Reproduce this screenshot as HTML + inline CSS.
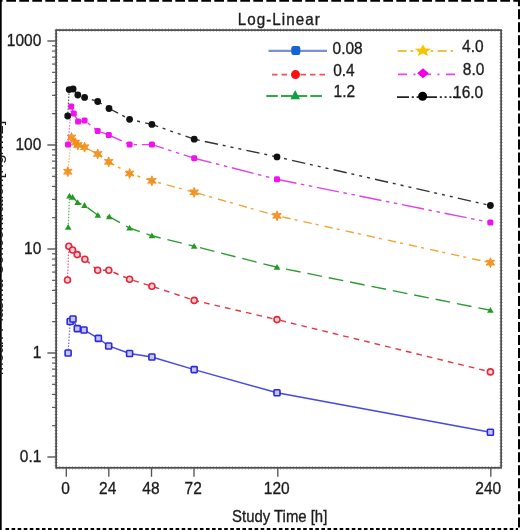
<!DOCTYPE html><html><head><meta charset="utf-8"><style>*{margin:0;padding:0}
html,body{width:520px;height:530px;overflow:hidden;background:#fff}
body{position:relative}
svg{filter:blur(0.55px)}</style></head><body>
<svg width="520" height="530" viewBox="0 0 520 530" style="position:absolute;left:0;top:0;font-family:'Liberation Sans',sans-serif">
<rect x="0" y="0" width="1.7" height="530" fill="#000"/>
<line x1="6.3" y1="0.9" x2="520" y2="0.9" stroke="#000" stroke-width="1.8" stroke-dasharray="9.7 3.3"/>
<rect x="0" y="0" width="2.5" height="1.8" fill="#000"/>
<line x1="519" y1="-3.8" x2="519" y2="530" stroke="#000" stroke-width="2" stroke-dasharray="10 3.03"/>
<line x1="5.5" y1="529" x2="518" y2="529" stroke="#000" stroke-width="2" stroke-dasharray="3.6 2.475"/>
<rect x="56.1" y="30.1" width="445.0" height="437.7" fill="none" stroke="#4a4a4a" stroke-width="1.7"/>
<line x1="56.1" y1="30.1" x2="501.1" y2="30.1" stroke="#555" stroke-width="3.2" stroke-dasharray="0.9 2.3" opacity="0.55"/>
<line x1="56.1" y1="467.8" x2="501.1" y2="467.8" stroke="#555" stroke-width="3.2" stroke-dasharray="0.9 2.3" opacity="0.55"/>
<line x1="56.1" y1="30.1" x2="56.1" y2="467.8" stroke="#555" stroke-width="3.2" stroke-dasharray="0.9 2.3" opacity="0.55"/>
<line x1="501.1" y1="30.1" x2="501.1" y2="467.8" stroke="#555" stroke-width="3.2" stroke-dasharray="0.9 2.3" opacity="0.55"/>
<line x1="47.4" y1="457.00" x2="56" y2="457.00" stroke="#555" stroke-width="1.4"/>
<line x1="52" y1="425.69" x2="56" y2="425.69" stroke="#555" stroke-width="1.15"/>
<line x1="52" y1="407.38" x2="56" y2="407.38" stroke="#555" stroke-width="1.15"/>
<line x1="52" y1="394.39" x2="56" y2="394.39" stroke="#555" stroke-width="1.15"/>
<line x1="52" y1="384.31" x2="56" y2="384.31" stroke="#555" stroke-width="1.15"/>
<line x1="52" y1="376.07" x2="56" y2="376.07" stroke="#555" stroke-width="1.15"/>
<line x1="52" y1="369.11" x2="56" y2="369.11" stroke="#555" stroke-width="1.15"/>
<line x1="52" y1="363.08" x2="56" y2="363.08" stroke="#555" stroke-width="1.15"/>
<line x1="52" y1="357.76" x2="56" y2="357.76" stroke="#555" stroke-width="1.15"/>
<line x1="47.4" y1="353.00" x2="56" y2="353.00" stroke="#555" stroke-width="1.4"/>
<line x1="52" y1="321.69" x2="56" y2="321.69" stroke="#555" stroke-width="1.15"/>
<line x1="52" y1="303.38" x2="56" y2="303.38" stroke="#555" stroke-width="1.15"/>
<line x1="52" y1="290.39" x2="56" y2="290.39" stroke="#555" stroke-width="1.15"/>
<line x1="52" y1="280.31" x2="56" y2="280.31" stroke="#555" stroke-width="1.15"/>
<line x1="52" y1="272.07" x2="56" y2="272.07" stroke="#555" stroke-width="1.15"/>
<line x1="52" y1="265.11" x2="56" y2="265.11" stroke="#555" stroke-width="1.15"/>
<line x1="52" y1="259.08" x2="56" y2="259.08" stroke="#555" stroke-width="1.15"/>
<line x1="52" y1="253.76" x2="56" y2="253.76" stroke="#555" stroke-width="1.15"/>
<line x1="47.4" y1="249.00" x2="56" y2="249.00" stroke="#555" stroke-width="1.4"/>
<line x1="52" y1="217.69" x2="56" y2="217.69" stroke="#555" stroke-width="1.15"/>
<line x1="52" y1="199.38" x2="56" y2="199.38" stroke="#555" stroke-width="1.15"/>
<line x1="52" y1="186.39" x2="56" y2="186.39" stroke="#555" stroke-width="1.15"/>
<line x1="52" y1="176.31" x2="56" y2="176.31" stroke="#555" stroke-width="1.15"/>
<line x1="52" y1="168.07" x2="56" y2="168.07" stroke="#555" stroke-width="1.15"/>
<line x1="52" y1="161.11" x2="56" y2="161.11" stroke="#555" stroke-width="1.15"/>
<line x1="52" y1="155.08" x2="56" y2="155.08" stroke="#555" stroke-width="1.15"/>
<line x1="52" y1="149.76" x2="56" y2="149.76" stroke="#555" stroke-width="1.15"/>
<line x1="47.4" y1="145.00" x2="56" y2="145.00" stroke="#555" stroke-width="1.4"/>
<line x1="52" y1="113.69" x2="56" y2="113.69" stroke="#555" stroke-width="1.15"/>
<line x1="52" y1="95.38" x2="56" y2="95.38" stroke="#555" stroke-width="1.15"/>
<line x1="52" y1="82.39" x2="56" y2="82.39" stroke="#555" stroke-width="1.15"/>
<line x1="52" y1="72.31" x2="56" y2="72.31" stroke="#555" stroke-width="1.15"/>
<line x1="52" y1="64.07" x2="56" y2="64.07" stroke="#555" stroke-width="1.15"/>
<line x1="52" y1="57.11" x2="56" y2="57.11" stroke="#555" stroke-width="1.15"/>
<line x1="52" y1="51.08" x2="56" y2="51.08" stroke="#555" stroke-width="1.15"/>
<line x1="52" y1="45.76" x2="56" y2="45.76" stroke="#555" stroke-width="1.15"/>
<line x1="47.4" y1="41.00" x2="56" y2="41.00" stroke="#555" stroke-width="1.4"/>
<line x1="66.30" y1="467" x2="66.30" y2="476.8" stroke="#555" stroke-width="1.35"/>
<line x1="108.80" y1="467" x2="108.80" y2="476.8" stroke="#555" stroke-width="1.35"/>
<line x1="151.50" y1="467" x2="151.50" y2="476.8" stroke="#555" stroke-width="1.35"/>
<line x1="194.00" y1="467" x2="194.00" y2="476.8" stroke="#555" stroke-width="1.35"/>
<line x1="277.80" y1="467" x2="277.80" y2="476.8" stroke="#555" stroke-width="1.35"/>
<line x1="490.80" y1="467" x2="490.80" y2="476.8" stroke="#555" stroke-width="1.35"/>
<line x1="68.1" y1="353" x2="70.2" y2="321.5" stroke="#4646e6" stroke-width="1.2" stroke-dasharray="1.5 1.5" opacity="0.8"/>
<polyline points="70.2,321.5 73.0,319.0 77.3,328.6 84.0,330.0 98.4,338.4 108.7,346.0 129.6,353.5 151.9,357.0 194.2,369.6 277.0,392.7 490.4,432.3" fill="none" stroke="#4646e6" stroke-width="1.4"/>
<line x1="67.5" y1="280" x2="68.8" y2="246.2" stroke="#e63444" stroke-width="1.2" stroke-dasharray="1.5 1.5" opacity="0.8"/>
<polyline points="68.8,246.2 72.6,250.0 77.2,254.6 84.9,259.2 97.7,270.3 108.8,270.3 129.6,279.2 151.9,286.2 194.2,300.4" fill="none" stroke="#e63444" stroke-width="1.4" stroke-dasharray="5.7 5.07"/>
<line x1="194.2" y1="300.4" x2="277" y2="319.6" stroke="#e63444" stroke-width="1.4" stroke-dasharray="5.7 5.07" stroke-dashoffset="0.71"/>
<line x1="277" y1="319.6" x2="490.4" y2="371.9" stroke="#e63444" stroke-width="1.4" stroke-dasharray="5.7 5.07" stroke-dashoffset="7.27"/>
<line x1="68.2" y1="227.3" x2="69.5" y2="196.1" stroke="#2c9a30" stroke-width="1.2" stroke-dasharray="1.5 1.5" opacity="0.8"/>
<polyline points="69.5,196.1 72.6,197.3 77.6,202.5 84.5,205.4 97.8,215.2 109.3,216.7 129.6,228.0 151.9,235.8 194.2,246.2" fill="none" stroke="#2c9a30" stroke-width="1.4" stroke-dasharray="14.8 7.0"/>
<line x1="194.2" y1="246.2" x2="277" y2="267.3" stroke="#2c9a30" stroke-width="1.4" stroke-dasharray="14.8 7.0" stroke-dashoffset="15.81"/>
<line x1="277" y1="267.3" x2="490.4" y2="310.3" stroke="#2c9a30" stroke-width="1.4" stroke-dasharray="14.8 7.0" stroke-dashoffset="12.62"/>
<line x1="67.8" y1="171.7" x2="71.5" y2="137.5" stroke="#f2a436" stroke-width="1.2" stroke-dasharray="1.5 1.5" opacity="0.8"/>
<polyline points="71.5,137.5 75.4,142.6 77.9,145.0 84.6,147.2 97.7,154.0 108.7,161.9 129.6,173.5 151.9,180.8 194.2,192.3" fill="none" stroke="#f2a436" stroke-width="1.4" stroke-dasharray="8.5 4 3 6.1"/>
<line x1="194.2" y1="192.3" x2="277" y2="215.8" stroke="#f2a436" stroke-width="1.4" stroke-dasharray="8.5 4 3 6.1" stroke-dashoffset="18.56"/>
<line x1="277" y1="215.8" x2="490.4" y2="262.7" stroke="#f2a436" stroke-width="1.4" stroke-dasharray="8.5 4 3 6.1" stroke-dashoffset="16.16"/>
<line x1="68.0" y1="144.6" x2="71.2" y2="106.5" stroke="#e040e8" stroke-width="1.2" stroke-dasharray="1.5 1.5" opacity="0.8"/>
<polyline points="71.2,106.5 73.8,113.5 78.1,121.5 84.6,120.6 97.7,130.9 108.8,135.0 129.6,144.6 151.9,144.6 194.2,158.2" fill="none" stroke="#e040e8" stroke-width="1.4" stroke-dasharray="22.5 4.6 3.5 4.6 3.5 4.7"/>
<line x1="194.2" y1="158.2" x2="277" y2="179.3" stroke="#e040e8" stroke-width="1.4" stroke-dasharray="22.5 4.6 3.5 4.6 3.5 4.7" stroke-dashoffset="4.60"/>
<line x1="277" y1="179.3" x2="490.4" y2="222.5" stroke="#e040e8" stroke-width="1.4" stroke-dasharray="22.5 4.6 3.5 4.6 3.5 4.7" stroke-dashoffset="2.73"/>
<line x1="67.7" y1="116" x2="69.2" y2="89.6" stroke="#333" stroke-width="1.2" stroke-dasharray="1.5 1.5" opacity="0.8"/>
<polyline points="69.2,89.6 73.1,89.0 77.8,95.0 84.6,97.4 97.7,101.5 109.0,108.5 129.6,119.3 151.9,124.4 194.2,139.2" fill="none" stroke="#333" stroke-width="1.4" stroke-dasharray="13.5 4.8 3 5 3 5 3 5.2"/>
<line x1="194.2" y1="139.2" x2="277" y2="156.9" stroke="#333" stroke-width="1.4" stroke-dasharray="13.5 4.8 3 5 3 5 3 5.2" stroke-dashoffset="31.66"/>
<line x1="277" y1="156.9" x2="490.4" y2="205.5" stroke="#333" stroke-width="1.4" stroke-dasharray="13.5 4.8 3 5 3 5 3 5.2" stroke-dashoffset="27.05"/>
<rect x="65.1" y="350.0" width="6.0" height="6.0" rx="0.8" fill="#c4c4fa" stroke="#2a2ad8" stroke-width="1.6"/>
<rect x="67.2" y="318.5" width="6.0" height="6.0" rx="0.8" fill="#c4c4fa" stroke="#2a2ad8" stroke-width="1.6"/>
<rect x="70.0" y="316.0" width="6.0" height="6.0" rx="0.8" fill="#c4c4fa" stroke="#2a2ad8" stroke-width="1.6"/>
<rect x="74.3" y="325.6" width="6.0" height="6.0" rx="0.8" fill="#c4c4fa" stroke="#2a2ad8" stroke-width="1.6"/>
<rect x="81.0" y="327.0" width="6.0" height="6.0" rx="0.8" fill="#c4c4fa" stroke="#2a2ad8" stroke-width="1.6"/>
<rect x="95.4" y="335.4" width="6.0" height="6.0" rx="0.8" fill="#c4c4fa" stroke="#2a2ad8" stroke-width="1.6"/>
<rect x="105.7" y="343.0" width="6.0" height="6.0" rx="0.8" fill="#c4c4fa" stroke="#2a2ad8" stroke-width="1.6"/>
<rect x="126.6" y="350.5" width="6.0" height="6.0" rx="0.8" fill="#c4c4fa" stroke="#2a2ad8" stroke-width="1.6"/>
<rect x="148.9" y="354.0" width="6.0" height="6.0" rx="0.8" fill="#c4c4fa" stroke="#2a2ad8" stroke-width="1.6"/>
<rect x="191.2" y="366.6" width="6.0" height="6.0" rx="0.8" fill="#c4c4fa" stroke="#2a2ad8" stroke-width="1.6"/>
<rect x="274.0" y="389.7" width="6.0" height="6.0" rx="0.8" fill="#c4c4fa" stroke="#2a2ad8" stroke-width="1.6"/>
<rect x="487.4" y="429.3" width="6.0" height="6.0" rx="0.8" fill="#c4c4fa" stroke="#2a2ad8" stroke-width="1.6"/>
<circle cx="67.5" cy="280.0" r="3.0" fill="#fbcfd3" stroke="#e0283a" stroke-width="1.6"/>
<circle cx="68.8" cy="246.2" r="3.0" fill="#fbcfd3" stroke="#e0283a" stroke-width="1.6"/>
<circle cx="72.6" cy="250.0" r="3.0" fill="#fbcfd3" stroke="#e0283a" stroke-width="1.6"/>
<circle cx="77.2" cy="254.6" r="3.0" fill="#fbcfd3" stroke="#e0283a" stroke-width="1.6"/>
<circle cx="84.9" cy="259.2" r="3.0" fill="#fbcfd3" stroke="#e0283a" stroke-width="1.6"/>
<circle cx="97.7" cy="270.3" r="3.0" fill="#fbcfd3" stroke="#e0283a" stroke-width="1.6"/>
<circle cx="108.8" cy="270.3" r="3.0" fill="#fbcfd3" stroke="#e0283a" stroke-width="1.6"/>
<circle cx="129.6" cy="279.2" r="3.0" fill="#fbcfd3" stroke="#e0283a" stroke-width="1.6"/>
<circle cx="151.9" cy="286.2" r="3.0" fill="#fbcfd3" stroke="#e0283a" stroke-width="1.6"/>
<circle cx="194.2" cy="300.4" r="3.0" fill="#fbcfd3" stroke="#e0283a" stroke-width="1.6"/>
<circle cx="277.0" cy="319.6" r="3.0" fill="#fbcfd3" stroke="#e0283a" stroke-width="1.6"/>
<circle cx="490.4" cy="371.9" r="3.0" fill="#fbcfd3" stroke="#e0283a" stroke-width="1.6"/>
<polygon points="68.2,224.0 71.5,229.8 64.9,229.8" fill="#249a24"/>
<polygon points="69.5,192.8 72.8,198.6 66.2,198.6" fill="#249a24"/>
<polygon points="72.6,194.0 75.9,199.8 69.3,199.8" fill="#249a24"/>
<polygon points="77.6,199.2 80.9,205.0 74.3,205.0" fill="#249a24"/>
<polygon points="84.5,202.1 87.8,207.9 81.2,207.9" fill="#249a24"/>
<polygon points="97.8,211.9 101.1,217.7 94.5,217.7" fill="#249a24"/>
<polygon points="109.3,213.4 112.6,219.2 106.0,219.2" fill="#249a24"/>
<polygon points="129.6,224.7 132.9,230.5 126.3,230.5" fill="#249a24"/>
<polygon points="151.9,232.5 155.2,238.3 148.6,238.3" fill="#249a24"/>
<polygon points="194.2,242.9 197.5,248.7 190.9,248.7" fill="#249a24"/>
<polygon points="277.0,264.0 280.3,269.8 273.7,269.8" fill="#249a24"/>
<polygon points="490.4,307.0 493.7,312.8 487.1,312.8" fill="#249a24"/>
<polygon points="67.8,166.7 66.6,169.6 63.5,169.2 65.4,171.7 63.5,174.2 66.6,173.8 67.8,176.7 69.0,173.8 72.1,174.2 70.2,171.7 72.1,169.2 69.0,169.6" fill="#f28c14" fill-opacity="0.9" stroke="#f28c14" stroke-width="0.8"/>
<polygon points="71.5,132.5 70.3,135.4 67.2,135.0 69.1,137.5 67.2,140.0 70.3,139.6 71.5,142.5 72.7,139.6 75.8,140.0 73.9,137.5 75.8,135.0 72.7,135.4" fill="#f28c14" fill-opacity="0.9" stroke="#f28c14" stroke-width="0.8"/>
<polygon points="75.4,137.6 74.2,140.5 71.1,140.1 73.0,142.6 71.1,145.1 74.2,144.7 75.4,147.6 76.6,144.7 79.7,145.1 77.8,142.6 79.7,140.1 76.6,140.5" fill="#f28c14" fill-opacity="0.9" stroke="#f28c14" stroke-width="0.8"/>
<polygon points="77.9,140.0 76.7,142.9 73.6,142.5 75.5,145.0 73.6,147.5 76.7,147.1 77.9,150.0 79.1,147.1 82.2,147.5 80.3,145.0 82.2,142.5 79.1,142.9" fill="#f28c14" fill-opacity="0.9" stroke="#f28c14" stroke-width="0.8"/>
<polygon points="84.6,142.2 83.4,145.1 80.3,144.7 82.2,147.2 80.3,149.7 83.4,149.3 84.6,152.2 85.8,149.3 88.9,149.7 87.0,147.2 88.9,144.7 85.8,145.1" fill="#f28c14" fill-opacity="0.9" stroke="#f28c14" stroke-width="0.8"/>
<polygon points="97.7,149.0 96.5,151.9 93.4,151.5 95.3,154.0 93.4,156.5 96.5,156.1 97.7,159.0 98.9,156.1 102.0,156.5 100.1,154.0 102.0,151.5 98.9,151.9" fill="#f28c14" fill-opacity="0.9" stroke="#f28c14" stroke-width="0.8"/>
<polygon points="108.7,156.9 107.5,159.8 104.4,159.4 106.3,161.9 104.4,164.4 107.5,164.0 108.7,166.9 109.9,164.0 113.0,164.4 111.1,161.9 113.0,159.4 109.9,159.8" fill="#f28c14" fill-opacity="0.9" stroke="#f28c14" stroke-width="0.8"/>
<polygon points="129.6,168.5 128.4,171.4 125.3,171.0 127.2,173.5 125.3,176.0 128.4,175.6 129.6,178.5 130.8,175.6 133.9,176.0 132.0,173.5 133.9,171.0 130.8,171.4" fill="#f28c14" fill-opacity="0.9" stroke="#f28c14" stroke-width="0.8"/>
<polygon points="151.9,175.8 150.7,178.7 147.6,178.3 149.5,180.8 147.6,183.3 150.7,182.9 151.9,185.8 153.1,182.9 156.2,183.3 154.3,180.8 156.2,178.3 153.1,178.7" fill="#f28c14" fill-opacity="0.9" stroke="#f28c14" stroke-width="0.8"/>
<polygon points="194.2,187.3 193.0,190.2 189.9,189.8 191.8,192.3 189.9,194.8 193.0,194.4 194.2,197.3 195.4,194.4 198.5,194.8 196.6,192.3 198.5,189.8 195.4,190.2" fill="#f28c14" fill-opacity="0.9" stroke="#f28c14" stroke-width="0.8"/>
<polygon points="277.0,210.8 275.8,213.7 272.7,213.3 274.6,215.8 272.7,218.3 275.8,217.9 277.0,220.8 278.2,217.9 281.3,218.3 279.4,215.8 281.3,213.3 278.2,213.7" fill="#f28c14" fill-opacity="0.9" stroke="#f28c14" stroke-width="0.8"/>
<polygon points="490.4,257.7 489.2,260.6 486.1,260.2 488.0,262.7 486.1,265.2 489.2,264.8 490.4,267.7 491.6,264.8 494.7,265.2 492.8,262.7 494.7,260.2 491.6,260.6" fill="#f28c14" fill-opacity="0.9" stroke="#f28c14" stroke-width="0.8"/>
<rect x="65.0" y="141.6" width="6.0" height="6.0" rx="1.6" fill="#f010f0"/>
<rect x="68.2" y="103.5" width="6.0" height="6.0" rx="1.6" fill="#f010f0"/>
<rect x="70.8" y="110.5" width="6.0" height="6.0" rx="1.6" fill="#f010f0"/>
<rect x="75.1" y="118.5" width="6.0" height="6.0" rx="1.6" fill="#f010f0"/>
<rect x="81.6" y="117.6" width="6.0" height="6.0" rx="1.6" fill="#f010f0"/>
<rect x="94.7" y="127.9" width="6.0" height="6.0" rx="1.6" fill="#f010f0"/>
<rect x="105.8" y="132.0" width="6.0" height="6.0" rx="1.6" fill="#f010f0"/>
<rect x="126.6" y="141.6" width="6.0" height="6.0" rx="1.6" fill="#f010f0"/>
<rect x="148.9" y="141.6" width="6.0" height="6.0" rx="1.6" fill="#f010f0"/>
<rect x="191.2" y="155.2" width="6.0" height="6.0" rx="1.6" fill="#f010f0"/>
<rect x="274.0" y="176.3" width="6.0" height="6.0" rx="1.6" fill="#f010f0"/>
<rect x="487.4" y="219.5" width="6.0" height="6.0" rx="1.6" fill="#f010f0"/>
<circle cx="67.7" cy="116.0" r="3.4" fill="#111111"/>
<circle cx="69.2" cy="89.6" r="3.4" fill="#111111"/>
<circle cx="73.1" cy="89.0" r="3.4" fill="#111111"/>
<circle cx="77.8" cy="95.0" r="3.4" fill="#111111"/>
<circle cx="84.6" cy="97.4" r="3.4" fill="#111111"/>
<circle cx="97.7" cy="101.5" r="3.4" fill="#111111"/>
<circle cx="109.0" cy="108.5" r="3.4" fill="#111111"/>
<circle cx="129.6" cy="119.3" r="3.4" fill="#111111"/>
<circle cx="151.9" cy="124.4" r="3.4" fill="#111111"/>
<circle cx="194.2" cy="139.2" r="3.4" fill="#111111"/>
<circle cx="277.0" cy="156.9" r="3.4" fill="#111111"/>
<circle cx="490.4" cy="205.5" r="3.4" fill="#111111"/>
<line x1="268.5" y1="50.8" x2="327" y2="50.8" stroke="#7890d8" stroke-width="2.3"/>
<rect x="291.3" y="46.0" width="9" height="9" rx="2.2" fill="#1464d2"/>
<line x1="272" y1="74.6" x2="327" y2="74.6" stroke="#f05060" stroke-width="1.8" stroke-dasharray="5.5 4"/>
<circle cx="295.5" cy="74.6" r="4.5" fill="#ff1010"/>
<line x1="266.3" y1="96" x2="323" y2="96" stroke="#30a848" stroke-width="1.8" stroke-dasharray="11.5 3.2"/>
<polygon points="295.2,90 300.0,99.2 290.4,99.2" fill="#10a040"/>
<line x1="397.6" y1="51" x2="453" y2="51" stroke="#f0c040" stroke-width="1.8" stroke-dasharray="9 4 2.5 4.5"/>
<polygon points="423.0,44.4 420.7,48.5 414.5,48.8 419.3,51.7 417.7,56.0 423.0,53.6 428.3,56.0 426.7,51.7 431.5,48.8 425.3,48.5" fill="#f8c400"/>
<line x1="398" y1="74.4" x2="455" y2="74.4" stroke="#f040f0" stroke-width="1.8" stroke-dasharray="9 6.5 2 6.5"/>
<polygon points="423.0,68.2 428.8,73.2 423.0,78.2 417.2,73.2" fill="#f000e8"/>
<line x1="397" y1="97.2" x2="455" y2="97.2" stroke="#222" stroke-width="1.8" stroke-dasharray="12 2.8 2 2.8 2 2.8 2 1.6"/>
<circle cx="422.6" cy="96.2" r="4.5" fill="#000"/>
<text transform="translate(279.3,25.3) scale(0.9,1)" x="0" y="0" font-size="16.9" text-anchor="middle" fill="#1c1c1c" stroke="#1c1c1c" stroke-width="0.35" letter-spacing="1.15">Log-Linear</text>
<text transform="translate(41.3,46.0) scale(1.0,1.05)" x="0" y="0" font-size="15.5" text-anchor="end" fill="#1c1c1c" stroke="#1c1c1c" stroke-width="0.3" >1000</text>
<text transform="translate(41.3,150.0) scale(1.0,1.05)" x="0" y="0" font-size="15.5" text-anchor="end" fill="#1c1c1c" stroke="#1c1c1c" stroke-width="0.3" >100</text>
<text transform="translate(41.3,254.0) scale(1.0,1.05)" x="0" y="0" font-size="15.5" text-anchor="end" fill="#1c1c1c" stroke="#1c1c1c" stroke-width="0.3" >10</text>
<text transform="translate(41.3,358.0) scale(1.0,1.05)" x="0" y="0" font-size="15.5" text-anchor="end" fill="#1c1c1c" stroke="#1c1c1c" stroke-width="0.3" >1</text>
<text transform="translate(41.3,462.0) scale(1.0,1.05)" x="0" y="0" font-size="15.5" text-anchor="end" fill="#1c1c1c" stroke="#1c1c1c" stroke-width="0.3" >0.1</text>
<text transform="translate(65.6,494.4) scale(1.0,1.05)" x="0" y="0" font-size="15.5" text-anchor="middle" fill="#1c1c1c" stroke="#1c1c1c" stroke-width="0.3" >0</text>
<text transform="translate(107.7,494.4) scale(1.0,1.05)" x="0" y="0" font-size="15.5" text-anchor="middle" fill="#1c1c1c" stroke="#1c1c1c" stroke-width="0.3" >24</text>
<text transform="translate(150.9,494.4) scale(1.0,1.05)" x="0" y="0" font-size="15.5" text-anchor="middle" fill="#1c1c1c" stroke="#1c1c1c" stroke-width="0.3" >48</text>
<text transform="translate(193.15,494.4) scale(1.0,1.05)" x="0" y="0" font-size="15.5" text-anchor="middle" fill="#1c1c1c" stroke="#1c1c1c" stroke-width="0.3" >72</text>
<text transform="translate(276.75,494.4) scale(1.0,1.05)" x="0" y="0" font-size="15.5" text-anchor="middle" fill="#1c1c1c" stroke="#1c1c1c" stroke-width="0.3" >120</text>
<text transform="translate(488.25,494.4) scale(1.0,1.05)" x="0" y="0" font-size="15.5" text-anchor="middle" fill="#1c1c1c" stroke="#1c1c1c" stroke-width="0.3" >240</text>
<text transform="translate(279.7,522.3) scale(1.0,1.05)" x="0" y="0" font-size="14.9" text-anchor="middle" fill="#1c1c1c" stroke="#1c1c1c" stroke-width="0.3" >Study Time [h]</text>
<text transform="translate(332.6,53.6) scale(1.0,1.05)" x="0" y="0" font-size="15.5" text-anchor="start" fill="#1c1c1c" stroke="#1c1c1c" stroke-width="0.3" >0.08</text>
<text transform="translate(333.2,75.6) scale(1.0,1.05)" x="0" y="0" font-size="15.5" text-anchor="start" fill="#1c1c1c" stroke="#1c1c1c" stroke-width="0.3" >0.4</text>
<text transform="translate(333.6,96.6) scale(1.0,1.05)" x="0" y="0" font-size="15.5" text-anchor="start" fill="#1c1c1c" stroke="#1c1c1c" stroke-width="0.3" >1.2</text>
<text transform="translate(483.6,51.9) scale(1.0,1.05)" x="0" y="0" font-size="15.5" text-anchor="end" fill="#1c1c1c" stroke="#1c1c1c" stroke-width="0.3" >4.0</text>
<text transform="translate(484.4,75.1) scale(1.0,1.05)" x="0" y="0" font-size="15.5" text-anchor="end" fill="#1c1c1c" stroke="#1c1c1c" stroke-width="0.3" >8.0</text>
<text transform="translate(483.2,97.9) scale(1.0,1.05)" x="0" y="0" font-size="15.5" text-anchor="end" fill="#1c1c1c" stroke="#1c1c1c" stroke-width="0.3" >16.0</text>
<text transform="translate(2.9,178.5) rotate(-90)" font-size="15.6" text-anchor="end" fill="#1c1c1c">Mean Plasma Concentration </text>
<text transform="translate(3.3,178.5) rotate(-90)" font-size="17.4" text-anchor="start" fill="#1c1c1c">[ng/mL]</text>
</svg>
</body></html>
